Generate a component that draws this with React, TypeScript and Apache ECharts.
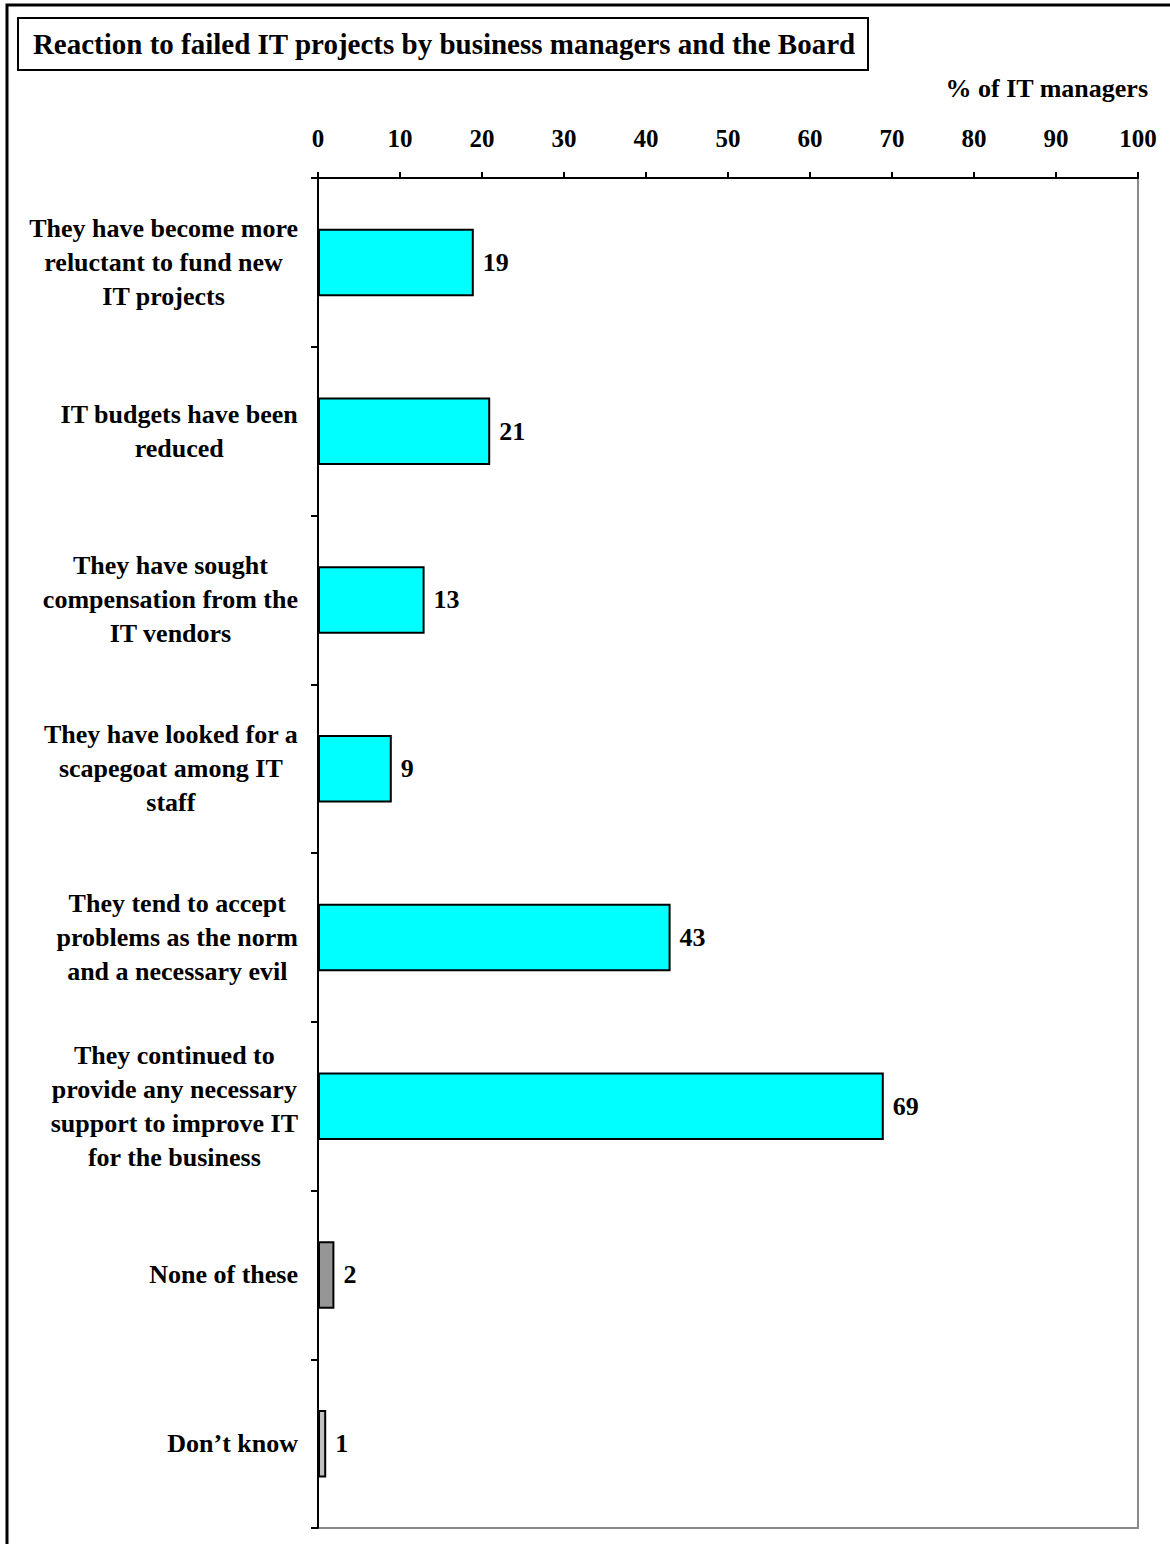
import React, { useEffect, useRef } from "react";
import * as echarts from "echarts";

const categories: string[] = [
  "They have become more\nreluctant to fund new\nIT projects",
  "IT budgets have been\nreduced",
  "They have sought\ncompensation from the\nIT vendors",
  "They have looked for a\nscapegoat among IT\nstaff",
  "They tend to accept\nproblems as the norm\nand a necessary evil",
  "They continued to\nprovide any necessary\nsupport to improve IT\nfor the business",
  "None of these",
  "Don\u2019t know",
];
const values: number[] = [19, 21, 13, 9, 43, 69, 2, 1];
const barColors: string[] = [
  "#00FFFF",
  "#00FFFF",
  "#00FFFF",
  "#00FFFF",
  "#00FFFF",
  "#00FFFF",
  "#969696",
  "#C0C0C0",
];
const titleText = "Reaction to failed IT projects by business managers and the Board";
const unitText = "% of IT managers";

const FONT = "'Liberation Serif', 'Times New Roman', serif";

export default function App() {
  const ref = useRef<HTMLDivElement>(null);

  useEffect(() => {
    if (!ref.current) return;
    const chart = echarts.init(ref.current, undefined, { renderer: "svg" });
    chart.setOption({
      animation: false,
      backgroundColor: "#ffffff",
      textStyle: { fontFamily: FONT },
      grid: {
        left: 318,
        top: 178,
        width: 820,
        height: 1350,
        show: true,
        borderColor: "#8a8a8a",
        borderWidth: 2,
        backgroundColor: "transparent",
      },
      xAxis: {
        type: "value",
        position: "top",
        min: 0,
        max: 100,
        interval: 10,
        splitLine: { show: false },
        axisLine: { show: true, lineStyle: { color: "#000", width: 2 } },
        axisTick: { show: true, inside: false, length: 6, lineStyle: { color: "#000", width: 2 } },
        axisLabel: {
          margin: 27,
          fontSize: 25,
          fontWeight: "bold",
          fontFamily: FONT,
          color: "#000",
        },
      },
      yAxis: {
        type: "category",
        inverse: true,
        data: categories,
        axisLine: { show: true, lineStyle: { color: "#000", width: 2 } },
        axisTick: { show: true, inside: false, length: 7, lineStyle: { color: "#000", width: 2 } },
        axisLabel: {
          margin: 20,
          interval: 0,
          color: "#000",
          formatter: (v: string) =>
            v
              .split("\n")
              .map((l) => `{c|${l}}`)
              .join("\n"),
          rich: {
            c: {
              align: "center",
              fontSize: 26,
              fontWeight: "bold",
              fontFamily: FONT,
              lineHeight: 34,
              color: "#000",
            },
          },
        },
      },
      series: [
        {
          type: "bar",
          data: values.map((v, i) => ({
            value: v,
            itemStyle: { color: barColors[i] },
          })),
          barWidth: "40%",
          itemStyle: { borderColor: "#000", borderWidth: 2 },
          label: {
            show: true,
            position: "right",
            distance: 9,
            fontSize: 26,
            fontWeight: "bold",
            fontFamily: FONT,
            color: "#000",
          },
        },
      ],
      graphic: [
        {
          type: "rect",
          shape: { x: 7, y: 5, width: 1300, height: 1700 },
          style: { fill: "none", stroke: "#000", lineWidth: 3 },
          silent: true,
        },
        {
          type: "rect",
          shape: { x: 18, y: 18, width: 850, height: 52 },
          style: { fill: "#fff", stroke: "#000", lineWidth: 2 },
          silent: true,
        },
        {
          type: "text",
          x: 444,
          y: 44,
          style: {
            text: titleText,
            fontSize: 29,
            fontWeight: "bold",
            fontFamily: FONT,
            fill: "#000",
            align: "center",
            verticalAlign: "middle",
          },
        },
        {
          type: "text",
          x: 1148,
          y: 88,
          style: {
            text: unitText,
            fontSize: 26,
            fontWeight: "bold",
            fontFamily: FONT,
            fill: "#000",
            align: "right",
            verticalAlign: "middle",
          },
        },
      ],
    });
    return () => chart.dispose();
  }, []);

  return (
    <div
      ref={ref}
      style={{ position: "absolute", left: 0, top: 0, width: 1170, height: 1544 }}
    />
  );
}
